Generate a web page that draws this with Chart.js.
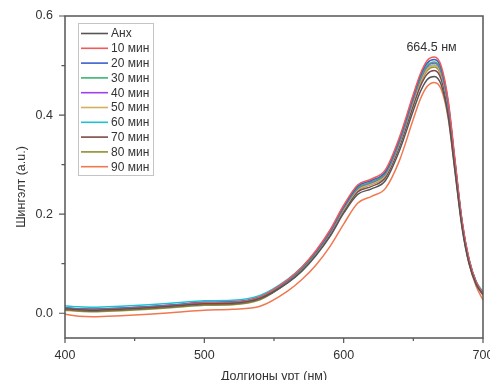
<!DOCTYPE html>
<html>
<head>
<meta charset="utf-8">
<script src="https://cdn.jsdelivr.net/npm/chart.js@4.4.1/dist/chart.umd.min.js"></script>
<style>
  html, body { margin: 0; padding: 0; background: #fff; }
  #contenedor { width: 490px; height: 380px; position: relative; }
</style>
</head>
<body>
<div id="contenedor"><canvas id="graficaEspectro"></canvas></div>
<script>
// Долгион (нм)
const wavelengths = [400, 410, 420, 440, 460, 480, 500, 520, 540, 560, 570, 580, 590, 600,
                     610, 620, 630, 640, 650, 655, 660, 665, 670, 675, 680, 685, 690, 695, 700];

const seriesNames = ['Анх', '10 мин', '20 мин', '30 мин', '40 мин', '50 мин', '60 мин', '70 мин', '80 мин', '90 мин'];

const anx    = [0.009, 0.007, 0.006, 0.008, 0.011, 0.015, 0.019, 0.020, 0.030, 0.062, 0.085, 0.116, 0.154, 0.202,
                0.240, 0.251, 0.268, 0.328, 0.409, 0.447, 0.472, 0.478, 0.461, 0.398, 0.284, 0.172, 0.100, 0.059, 0.037];
const min10  = [0.010, 0.008, 0.007, 0.009, 0.012, 0.016, 0.021, 0.022, 0.033, 0.068, 0.093, 0.126, 0.167, 0.218,
                0.259, 0.271, 0.290, 0.355, 0.442, 0.483, 0.510, 0.517, 0.499, 0.430, 0.307, 0.186, 0.109, 0.064, 0.040];
const min20  = [0.011, 0.009, 0.008, 0.010, 0.013, 0.017, 0.022, 0.023, 0.033, 0.067, 0.092, 0.124, 0.165, 0.215,
                0.256, 0.268, 0.286, 0.351, 0.438, 0.479, 0.505, 0.512, 0.494, 0.426, 0.304, 0.185, 0.108, 0.063, 0.040];
const min30  = [0.011, 0.009, 0.008, 0.010, 0.013, 0.017, 0.021, 0.022, 0.032, 0.066, 0.090, 0.122, 0.163, 0.213,
                0.253, 0.265, 0.283, 0.347, 0.434, 0.474, 0.500, 0.507, 0.489, 0.422, 0.301, 0.183, 0.107, 0.063, 0.040];
const min40  = [0.011, 0.009, 0.008, 0.010, 0.013, 0.017, 0.021, 0.022, 0.032, 0.066, 0.090, 0.122, 0.162, 0.212,
                0.252, 0.264, 0.282, 0.345, 0.432, 0.472, 0.498, 0.505, 0.487, 0.420, 0.300, 0.182, 0.106, 0.062, 0.039];
const min50  = [0.009, 0.007, 0.006, 0.008, 0.011, 0.015, 0.019, 0.020, 0.030, 0.064, 0.088, 0.120, 0.160, 0.209,
                0.249, 0.261, 0.279, 0.342, 0.428, 0.467, 0.493, 0.500, 0.482, 0.416, 0.297, 0.180, 0.105, 0.061, 0.039];
const min60  = [0.015, 0.013, 0.012, 0.014, 0.017, 0.021, 0.025, 0.026, 0.036, 0.069, 0.093, 0.124, 0.163, 0.212,
                0.251, 0.262, 0.280, 0.343, 0.430, 0.469, 0.494, 0.501, 0.484, 0.418, 0.299, 0.183, 0.108, 0.065, 0.043];
const min70  = [0.008, 0.006, 0.005, 0.007, 0.010, 0.014, 0.018, 0.019, 0.029, 0.063, 0.087, 0.118, 0.157, 0.206,
                0.245, 0.256, 0.274, 0.336, 0.419, 0.458, 0.483, 0.490, 0.472, 0.407, 0.291, 0.177, 0.103, 0.060, 0.038];
const min80  = [0.006, 0.004, 0.003, 0.005, 0.008, 0.012, 0.016, 0.017, 0.027, 0.062, 0.086, 0.119, 0.159, 0.208,
                0.248, 0.260, 0.278, 0.341, 0.425, 0.464, 0.490, 0.497, 0.479, 0.413, 0.295, 0.179, 0.104, 0.060, 0.037];
const min90  = [-0.002, -0.006, -0.007, -0.005, -0.002, 0.002, 0.006, 0.008, 0.014, 0.045, 0.068, 0.097, 0.134, 0.180,
                0.222, 0.236, 0.252, 0.308, 0.392, 0.432, 0.458, 0.466, 0.452, 0.394, 0.285, 0.175, 0.100, 0.055, 0.027];

const seriesValues = [anx, min10, min20, min30, min40, min50, min60, min70, min80, min90];
const seriesColors = ['#555555', '#f05a5a', '#3a5fcd', '#3cb371', '#a040f0', '#d2b060', '#20c0d0', '#804848', '#909030', '#f07850'];

const xTicks = [400, 500, 600, 700];
const xMinor = [450, 550, 650];
const yTicks = [0.0, 0.2, 0.4, 0.6];
const yMinor = [0.1, 0.3, 0.5];

const peakLabel = '664.5 нм';
const peakX = 664.5;
const peakLabelY = 0.536;

const colorTexto = '#333333';
const colorMarco = '#555555';

// Marco, ticks, leyenda y textos (estilo Origin)
const marcoOrigin = {
    id: 'marcoOrigin',
    afterDatasetsDraw(chart) {
        const {ctx, chartArea: a, scales: {x, y}} = chart;
        ctx.save();

        // marco
        ctx.strokeStyle = colorMarco;
        ctx.lineWidth = 1.5;
        ctx.strokeRect(a.left, a.top, a.right - a.left, a.bottom - a.top);

        // ticks
        ctx.lineWidth = 1.2;
        ctx.beginPath();
        yTicks.forEach(v => { const p = y.getPixelForValue(v); ctx.moveTo(a.left, p); ctx.lineTo(a.left - 6, p); });
        yMinor.forEach(v => { const p = y.getPixelForValue(v); ctx.moveTo(a.left, p); ctx.lineTo(a.left - 3.5, p); });
        xTicks.forEach(v => { const p = x.getPixelForValue(v); ctx.moveTo(p, a.bottom); ctx.lineTo(p, a.bottom + 5); });
        xMinor.forEach(v => { const p = x.getPixelForValue(v); ctx.moveTo(p, a.bottom); ctx.lineTo(p, a.bottom + 3); });
        ctx.stroke();

        // etiqueta del pico
        ctx.fillStyle = colorTexto;
        ctx.font = '12.5px "Liberation Sans", Arial, sans-serif';
        ctx.textAlign = 'center';
        ctx.textBaseline = 'middle';
        ctx.fillText(peakLabel, x.getPixelForValue(peakX) - 2, y.getPixelForValue(peakLabelY));

        // títulos de ejes
        ctx.fillText('Долгионы урт (нм)', (a.left + a.right) / 2, 377);
        ctx.save();
        ctx.translate(22, 187);
        ctx.rotate(-Math.PI / 2);
        ctx.fillText('Шингэлт (a.u.)', 0, 0);
        ctx.restore();

        // leyenda
        const lx = 78.5, ly = 23.5, lw = 75, lh = 152;
        ctx.fillStyle = '#ffffff';
        ctx.fillRect(lx, ly, lw, lh);
        ctx.strokeStyle = '#c4c4c4';
        ctx.lineWidth = 1;
        ctx.strokeRect(lx, ly, lw, lh);
        ctx.font = '12px "Liberation Sans", Arial, sans-serif';
        ctx.textAlign = 'left';
        chart.data.datasets.forEach((ds, i) => {
            const yy = 33.5 + i * 14.8;
            ctx.strokeStyle = ds.borderColor;
            ctx.lineWidth = 1.6;
            ctx.beginPath();
            ctx.moveTo(81, yy);
            ctx.lineTo(108, yy);
            ctx.stroke();
            ctx.fillStyle = colorTexto;
            ctx.fillText(ds.label, 111, yy + 0.5);
        });
        ctx.restore();
    }
};

const ctxEspectro = document.getElementById('graficaEspectro');

new Chart(ctxEspectro, {
    type: 'line',
    data: {
        datasets: seriesNames.map((nombre, i) => ({
            label: nombre,
            data: wavelengths.map((w, j) => ({x: w, y: seriesValues[i][j]})),
            borderColor: seriesColors[i],
            borderWidth: 1.5,
            pointRadius: 0,
            fill: false,
            cubicInterpolationMode: 'monotone'
        }))
    },
    options: {
        responsive: true,
        maintainAspectRatio: false,
        animation: false,
        devicePixelRatio: 1,
        layout: { padding: { left: 0, top: 16, right: 7, bottom: 0 } },
        plugins: {
            legend: { display: false },
            tooltip: { enabled: false }
        },
        scales: {
            x: {
                type: 'linear',
                min: 400,
                max: 700,
                grid: { display: false, drawTicks: false },
                border: { display: false },
                afterBuildTicks: s => { s.ticks = xTicks.map(v => ({value: v})); },
                afterFit: s => { s.height = 42; s.paddingLeft = 0; s.paddingRight = 0; },
                ticks: {
                    padding: 10,
                    maxRotation: 0,
                    color: colorTexto,
                    font: { family: '"Liberation Sans", Arial, sans-serif', size: 12.5 }
                }
            },
            y: {
                min: -0.05,
                max: 0.6,
                grid: { display: false, drawTicks: false },
                border: { display: false },
                afterBuildTicks: s => { s.ticks = yTicks.map(v => ({value: v})); },
                afterFit: s => { s.width = 65; s.paddingTop = 0; s.paddingBottom = 0; },
                ticks: {
                    padding: 12,
                    color: colorTexto,
                    font: { family: '"Liberation Sans", Arial, sans-serif', size: 12.5 },
                    callback: v => v.toFixed(1)
                }
            }
        }
    },
    plugins: [marcoOrigin]
});
</script>
</body>
</html>
